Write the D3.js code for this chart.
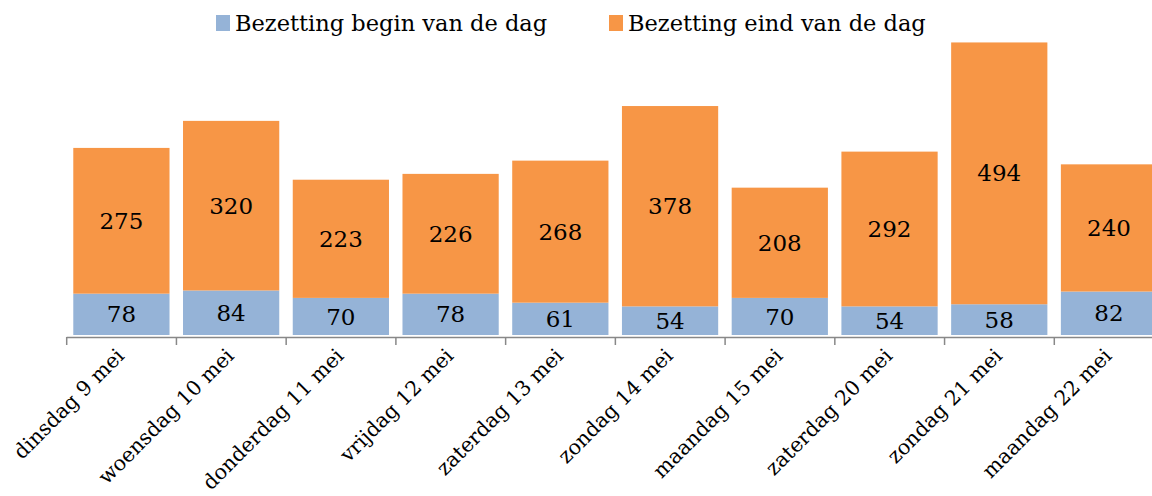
<!DOCTYPE html>
<html>
<head>
<meta charset="utf-8">
<script src="https://cdn.jsdelivr.net/npm/d3@7"></script>
<style>
  body { margin: 0; background: #fff; }
  svg { display: block; font-family: Georgia, "DejaVu Serif", serif; }
</style>
</head>
<body>
<svg id="chart" width="1152" height="496"></svg>
<script>
var days = ["dinsdag 9 mei", "woensdag 10 mei", "donderdag 11 mei", "vrijdag 12 mei",
            "zaterdag 13 mei", "zondag 14 mei", "maandag 15 mei", "zaterdag 20 mei",
            "zondag 21 mei", "maandag 22 mei"];
var beginDag = [78, 84, 70, 78, 61, 54, 70, 54, 58, 82];
var eindDag = [275, 320, 223, 226, 268, 378, 208, 292, 494, 240];
var seriesNames = ["Bezetting begin van de dag", "Bezetting eind van de dag"];
var colors = ["#95b3d7", "#f79646"];

var svg = d3.select('#chart');
var data = days.map(function(d, i) {
  return {day: d, begin: beginDag[i], eind: eindDag[i]};
});

var x = d3.scaleBand()
  .domain(days)
  .range([66.7, 66.7 + 109.7 * days.length])
  .paddingInner(0.123)
  .paddingOuter(0.06);

var y = d3.scaleLinear()
  .domain([0, 600])
  .range([335, 17]);

var stack = d3.stack().keys(["begin", "eind"]);
var layers = stack(data);

var groups = svg.selectAll(".layer")
  .data(layers)
  .enter().append("g")
  .attr("class", "layer")
  .attr("fill", function(d, i) { return colors[i]; });

groups.selectAll("rect")
  .data(function(d) { return d; })
  .enter().append("rect")
  .attr("x", function(d) { return x(d.data.day); })
  .attr("width", x.bandwidth())
  .attr("y", function(d) { return y(d[1]); })
  .attr("height", function(d) { return y(d[0]) - y(d[1]); });

// value labels in the middle of each segment
groups.selectAll("text")
  .data(function(d) { return d; })
  .enter().append("text")
  .attr("x", function(d) { return x(d.data.day) + x.bandwidth() / 2; })
  .attr("y", function(d) { return (y(d[0]) + y(d[1])) / 2; })
  .attr("dy", "0.35em")
  .attr("text-anchor", "middle")
  .attr("font-size", "23px")
  .attr("fill", "#000")
  .text(function(d) { return d[1] - d[0]; });

// x axis line and ticks between the categories
var axis = svg.append("g").attr("stroke", "#888").attr("stroke-width", 1.5);
axis.append("line")
  .attr("x1", x.range()[0]).attr("x2", x.range()[1])
  .attr("y1", 337.5).attr("y2", 337.5);
var step = x.step();
axis.selectAll(".tick")
  .data(d3.range(days.length + 1))
  .enter().append("line")
  .attr("x1", function(i) { return x.range()[0] + i * step; })
  .attr("x2", function(i) { return x.range()[0] + i * step; })
  .attr("y1", 337).attr("y2", 345);

svg.selectAll(".xlabel")
  .data(days)
  .enter().append("text")
  .attr("class", "xlabel")
  .attr("font-size", "20.5px")
  .attr("text-anchor", "end")
  .attr("transform", function(d) {
    return "translate(" + (x(d) + x.bandwidth() / 2 + 4) + ",357) rotate(-45)";
  })
  .text(function(d) { return d; });

// legend
var legendX = [216, 609];
var legend = svg.selectAll(".legend")
  .data(seriesNames)
  .enter().append("g")
  .attr("class", "legend")
  .attr("transform", function(d, i) { return "translate(" + legendX[i] + ",15)"; });
legend.append("rect")
  .attr("width", 14).attr("height", 16)
  .attr("fill", function(d, i) { return colors[i]; });
legend.append("text")
  .attr("x", 19).attr("y", 8)
  .attr("dy", "0.35em")
  .attr("font-size", "22.5px")
  .text(function(d) { return d; });
</script>
</body>
</html>
